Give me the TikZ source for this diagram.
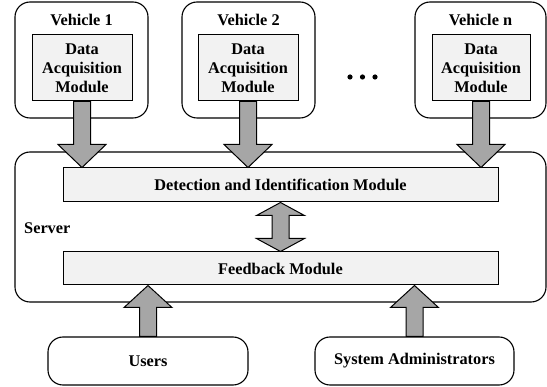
\documentclass[tikz,border=0pt]{standalone}
\usepackage{fontspec}
\setmainfont{Liberation Serif}
\usetikzlibrary{calc}
\definecolor{boxgray}{HTML}{F2F2F2}
\definecolor{arrowgray}{HTML}{A6A6A6}
\tikzset{
  outerbox/.style={draw, rounded corners=15pt, line width=1.1pt},
  modbox/.style={draw, fill=boxgray, line width=1pt, font=\bfseries\fontsize{16.3}{19}\selectfont,
    align=center, inner sep=0pt},
  title/.style={font=\bfseries\fontsize{16.3}{19}\selectfont, inner sep=0pt},
  fatarrow/.style={draw, fill=arrowgray, line width=1pt, line join=miter},
}
% block arrow from #2 to tip #3, head length #1
\newcommand{\blockarrow}[3][23]{%
  \draw[fatarrow] let \p1=(#2), \p2=(#3), \n1={sign(\y2-\y1)} in
    ({\x1-8.5pt},\y1) -- ({\x1-8.5pt},{\y2-(\n1)*#1pt}) -- ({\x1-24pt},{\y2-(\n1)*#1pt})
    -- (\x1,\y2) -- ({\x1+24pt},{\y2-(\n1)*#1pt}) -- ({\x1+8.5pt},{\y2-(\n1)*#1pt})
    -- ({\x1+8.5pt},\y1) -- cycle;}
% double block arrow between #2 (top) and #3 (bottom)
\newcommand{\dblarrow}[3][13]{%
  \draw[fatarrow] let \p1=(#2), \p2=(#3) in
    (\x1,\y1) -- ({\x1+24pt},{\y1-#1pt}) -- ({\x1+8.5pt},{\y1-#1pt}) -- ({\x1+8.5pt},{\y2+#1pt})
    -- ({\x1+24pt},{\y2+#1pt}) -- (\x1,\y2) -- ({\x1-24pt},{\y2+#1pt}) -- ({\x1-8.5pt},{\y2+#1pt})
    -- ({\x1-8.5pt},{\y1-#1pt}) -- ({\x1-24pt},{\y1-#1pt}) -- cycle;}
\begin{document}
\begin{tikzpicture}[x=1pt, y=-1pt]
  \useasboundingbox (0,0) rectangle (547,387);
  % vehicles
  \node[outerbox, minimum width=133pt, minimum height=116pt] (veh1) at (81.5,60) {};
  \node[title] (veh1lab) at (81.5,20) {Vehicle 1};
  \node[modbox, minimum width=100pt, minimum height=66pt] (dam1) at (82,68) {Data\\Acquisition\\Module};
  \node[outerbox, minimum width=133pt, minimum height=116pt] (veh2) at (248.5,60) {};
  \node[title] (veh2lab) at (248.5,20) {Vehicle 2};
  \node[modbox, minimum width=100pt, minimum height=66pt] (dam2) at (248,68) {Data\\Acquisition\\Module};
  \node[outerbox, minimum width=131pt, minimum height=116pt] (vehn) at (480.5,60) {};
  \node[title] (vehnlab) at (480.5,20) {Vehicle n};
  \node[modbox, minimum width=98pt, minimum height=66pt] (damn) at (481,68) {Data\\Acquisition\\Module};
  \foreach \dx in {350,362.5,375} \fill (\dx,77) circle (2.6pt);
  % server
  \node[outerbox, minimum width=531pt, minimum height=150pt] (server) at (280.5,227) {};
  \node[title, anchor=west] (serverlab) at (24,228) {Server};
  \node[modbox, minimum width=435pt, minimum height=34pt] (detect) at (280.5,185) {Detection and Identification Module};
  \node[modbox, minimum width=435pt, minimum height=33pt] (feedback) at (280.5,268.5) {Feedback Module};
  % users and admins
  \node[outerbox, title, minimum width=200pt, minimum height=48pt] (users) at (148,361) {Users};
  \node[outerbox, title, minimum width=199pt, minimum height=48pt] (admins) at (414.5,361) {System Administrators};
  % arrows
  \blockarrow{dam1.south}{dam1.south |- detect.north}
  \blockarrow{dam2.south}{dam2.south |- detect.north}
  \blockarrow{damn.south}{damn.south |- detect.north}
  \dblarrow{detect.south}{detect.south |- feedback.north}
  \blockarrow[22]{users.north}{users.north |- feedback.south}
  \blockarrow[22]{admins.north}{admins.north |- feedback.south}
\end{tikzpicture}
\end{document}
